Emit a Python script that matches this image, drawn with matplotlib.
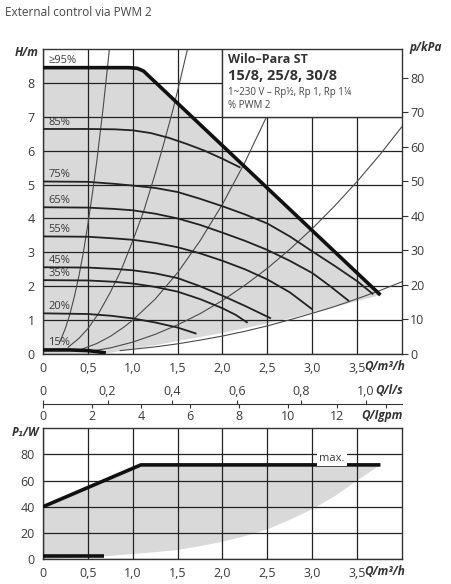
import numpy as np
import matplotlib
matplotlib.use('Agg')
import matplotlib.pyplot as plt
import matplotlib.transforms as mtransforms
from matplotlib.patches import Rectangle
from matplotlib.ticker import FuncFormatter

plt.rcParams['font.family'] = ['Open Sans', 'DejaVu Sans']

# --- pump curves, H/m over Q/m3/h ---
max_q = [0, 0.95, 1.05, 1.12, 3.76]
max_h = [8.45, 8.45, 8.43, 8.35, 1.74]

pwm_labels = ['85%', '75%', '65%', '55%', '45%', '35%', '20%']
pwm_q = [
    [0, 0.5, 0.8, 1.0, 1.2, 1.4, 1.6, 1.8, 2.0, 2.2],
    [0, 0.5, 0.8, 1.0, 1.25, 1.5, 1.75, 2.0, 2.25, 2.5, 2.75, 3.0, 3.25, 3.5, 3.68],
    [0, 0.5, 0.8, 1.0, 1.25, 1.5, 1.75, 2.0, 2.25, 2.5, 2.75, 3.0, 3.2, 3.41],
    [0, 0.5, 0.8, 1.0, 1.25, 1.5, 1.75, 2.0, 2.25, 2.5, 2.75, 3.0],
    [0, 0.5, 0.8, 1.0, 1.25, 1.5, 1.75, 2.0, 2.25, 2.54],
    [0, 0.5, 0.8, 1.0, 1.25, 1.5, 1.75, 2.0, 2.15, 2.28],
    [0, 0.5, 0.75, 1.0, 1.25, 1.5, 1.71],
]
pwm_h = [
    [6.64, 6.64, 6.63, 6.6, 6.52, 6.38, 6.2, 6.0, 5.76, 5.5],
    [5.09, 5.08, 5.02, 4.97, 4.9, 4.78, 4.58, 4.36, 4.12, 3.85, 3.47, 3.03, 2.6, 2.15, 1.76],
    [4.33, 4.32, 4.28, 4.24, 4.14, 4.0, 3.81, 3.58, 3.34, 3.07, 2.75, 2.39, 2.0, 1.56],
    [3.47, 3.46, 3.41, 3.37, 3.28, 3.15, 2.97, 2.75, 2.5, 2.2, 1.82, 1.32],
    [2.56, 2.55, 2.51, 2.47, 2.38, 2.24, 2.0, 1.72, 1.42, 1.05],
    [2.18, 2.17, 2.13, 2.08, 1.98, 1.84, 1.62, 1.35, 1.15, 0.92],
    [1.2, 1.18, 1.13, 1.05, 0.93, 0.78, 0.6],
]
min_q = [0, 0.3, 0.5, 0.6, 0.7]
min_h = [0.12, 0.12, 0.1, 0.07, 0.03]

# lower edge of the grey field
shade_q = [3.76, 3.5, 3.25, 3.0, 2.75, 2.5, 2.25, 2.0, 1.75, 1.5, 1.25, 1.0, 0.8, 0.67, 0]
shade_h = [1.74, 1.56, 1.39, 1.22, 1.06, 0.9, 0.76, 0.62, 0.5, 0.38, 0.26, 0.15, 0.06, 0.0, 0.0]

# system curves (thin)
sys_q = [
    [0.19, 0.25, 0.3, 0.35, 0.4, 0.45, 0.5, 0.55, 0.6, 0.67, 0.74],
    [0.28, 0.4, 0.5, 0.62, 0.75, 0.87, 1.0, 1.12, 1.25, 1.35, 1.45, 1.53, 1.61],
    [0.41, 0.6, 0.75, 0.9, 1.0, 1.25, 1.5, 1.75, 2.0, 2.25, 2.5, 2.75],
    [0.55, 0.75, 1.0, 1.25, 1.5, 1.75, 2.0, 2.25, 2.5, 2.75, 3.0, 3.25, 3.5, 3.75, 4.0],
    [0.86, 1.25, 1.5, 1.75, 2.0, 2.25, 2.5, 2.75, 3.0, 3.25, 3.5, 3.75, 4.0],
]
sys_h = [
    [0.37, 0.76, 1.18, 1.7, 2.3, 3.0, 3.83, 4.73, 5.7, 7.26, 9.0],
    [0.2, 0.46, 0.75, 1.2, 1.82, 2.47, 3.34, 4.2, 5.32, 6.25, 7.23, 8.1, 9.0],
    [0.12, 0.31, 0.52, 0.79, 1.0, 1.62, 2.4, 3.34, 4.42, 5.66, 7.05, 8.59],
    [0.09, 0.18, 0.35, 0.58, 0.86, 1.19, 1.58, 2.03, 2.53, 3.09, 3.7, 4.37, 5.09, 5.87, 6.71],
    [0.1, 0.21, 0.3, 0.41, 0.53, 0.67, 0.83, 1.01, 1.2, 1.4, 1.63, 1.87, 2.13],
]

# --- power, P1/W ---
pmax_q = [0, 1.09, 3.76]
pmax_p = [40, 72, 72]
pmin_q = [0, 0.68]
pmin_p = [2.3, 2.3]
pshade_q = [3.76, 3.65, 3.5, 3.25, 3.0, 2.75, 2.5, 2.25, 2.0, 1.75, 1.5, 1.25, 1.0, 0.68, 0]
pshade_p = [72, 67, 60, 48, 38, 30, 22.6, 17.5, 13.2, 9.8, 6.9, 5.2, 3.8, 2.0, 0]

GREY = '#d9d9d9'
INK = '#222222'
TXT = '#3a3a3a'


def comma(v, pos):
    if abs(v) < 1e-9:
        return '0'
    return ('%.1f' % v).replace('.', ',')


fig = plt.figure(figsize=(4.52, 5.84), dpi=100)
fig.text(5 / 452, 1 - 12 / 584, 'External control via PWM 2', fontsize=8.5,
         color='#444444', va='center')

# ================= H/Q chart =================
ax = fig.add_axes([43 / 452, 230 / 584, 359 / 452, 305 / 584])
ax.set_xlim(0, 4)
ax.set_ylim(0, 9)
ax.fill(max_q + shade_q, max_h + shade_h, color=GREY, lw=0, zorder=1)

for q, h in zip(sys_q, sys_h):
    ax.plot(q, h, color='#4a4a4a', lw=0.8, zorder=2)
for lab, q, h in zip(pwm_labels, pwm_q, pwm_h):
    ax.plot(q, h, color=INK, lw=1.3, zorder=3, solid_capstyle='butt')
    ax.text(0.06, h[0] + 0.04, lab, fontsize=8, color=TXT, va='bottom', zorder=6)
ax.plot(max_q, max_h, color='#111111', lw=2.6, zorder=4, solid_capstyle='butt')
ax.text(0.06, max_h[0] + 0.06, '\u226595%', fontsize=8, color=TXT, va='bottom', zorder=6)
ax.plot(min_q, min_h, color='#111111', lw=2.6, zorder=4, solid_capstyle='butt')
ax.text(0.06, 0.17, '15%', fontsize=8, color=TXT, va='bottom', zorder=6)

ax.add_patch(Rectangle((2.0, 7.0), 2.0, 2.0, facecolor='white', edgecolor='#333333',
                       lw=1.0, zorder=5))
ax.text(2.06, 8.68, 'Wilo\u2013Para ST', fontsize=9, fontweight='bold', color='#333333',
        va='center', zorder=6)
ax.text(2.06, 8.2, '15/8, 25/8, 30/8', fontsize=10.5, fontweight='bold', color='#333333',
        va='center', zorder=6)
ax.text(2.06, 7.72, '1~230 V \u2013 Rp\u00bd, Rp 1, Rp 1\u00bc', fontsize=7, color='#444444',
        va='center', zorder=6)
ax.text(2.06, 7.33, '% PWM 2', fontsize=7, color='#444444', va='center', zorder=6)

ax.set_xticks(np.arange(0, 4.0, 0.5))
ax.set_yticks(range(0, 9))
ax.xaxis.set_major_formatter(FuncFormatter(comma))
ax.grid(True, color=INK, lw=0.9)
ax.tick_params(length=0, labelsize=9, labelcolor=TXT)
ax.tick_params(axis='x', pad=6)
ax.tick_params(axis='y', pad=6)
for s in ax.spines.values():
    s.set_color('#333333')
    s.set_linewidth(1.0)

ax2 = ax.twinx()
ax2.set_ylim(0, 9 * 9.81)
ax2.set_yticks(range(0, 90, 10))
ax2.tick_params(direction='out', length=4, width=0.8, color='#333333', labelsize=9,
                labelcolor=TXT, pad=2)
for s in ax2.spines.values():
    s.set_visible(False)

trans = mtransforms.blended_transform_factory(ax.transData, ax.transAxes)
ax.text(4.03, -0.042, 'Q/m\u00b3/h', transform=trans, ha='right', va='center',
        fontsize=8.5, fontweight='bold', fontstyle='italic', color='#333333')
fig.text(27 / 452, 1 - 52 / 584, 'H/m', ha='center', va='center', fontsize=8.5,
         fontweight='bold', fontstyle='italic', color='#333333')
fig.text(426 / 452, 1 - 48 / 584, 'p/kPa', ha='center', va='center', fontsize=8.5,
         fontweight='bold', fontstyle='italic', color='#333333')

# ================= Q scale in l/s and Igpm =================
ax3 = fig.add_axes([43 / 452, (584 - 404) / 584, 359 / 452, 1e-4])
ax3.set_xlim(0, 4)
ax3.set_yticks([])
ax3.set_xticks([])
ax3.patch.set_visible(False)
for k in ['top', 'left', 'right']:
    ax3.spines[k].set_visible(False)
ax3.spines['bottom'].set_color('#333333')

ls_ax = ax3.secondary_xaxis('top', functions=(lambda q: q / 3.6, lambda v: v * 3.6))
ls_ax.set_xticks([0, 0.2, 0.4, 0.6, 0.8, 1.0])
ls_ax.xaxis.set_major_formatter(FuncFormatter(comma))
ls_ax.tick_params(direction='out', length=3, width=0.8, color='#333333', labelsize=9,
                  labelcolor=TXT, pad=1)
ls_ax.spines['top'].set_visible(False)

gpm_ax = ax3.secondary_xaxis('bottom', functions=(lambda q: q / 0.2728, lambda g: g * 0.2728))
gpm_ax.set_xticks([0, 2, 4, 6, 8, 10, 12, 14])
gpm_ax.set_xticklabels(['0', '2', '4', '6', '8', '10', '12', ''])
gpm_ax.tick_params(direction='out', length=3, width=0.8, color='#333333', labelsize=9,
                   labelcolor=TXT, pad=1.5)
gpm_ax.spines['bottom'].set_visible(False)

fig.text(403 / 452, 1 - 391 / 584, 'Q/l/s', ha='right', va='center', fontsize=8.5,
         fontweight='bold', fontstyle='italic', color='#333333')
fig.text(403 / 452, 1 - 416 / 584, 'Q/Igpm', ha='right', va='center', fontsize=8.5,
         fontweight='bold', fontstyle='italic', color='#333333')

# ================= P1 chart =================
axb = fig.add_axes([43 / 452, 25 / 584, 359 / 452, 130.7 / 584])
axb.set_xlim(0, 4)
axb.set_ylim(0, 100)
axb.fill(pmax_q + pshade_q, pmax_p + pshade_p, color=GREY, lw=0, zorder=1)
axb.plot(pmax_q, pmax_p, color='#111111', lw=2.6, zorder=4, solid_capstyle='butt')
axb.plot(pmin_q, pmin_p, color='#111111', lw=2.6, zorder=4, solid_capstyle='butt')
axb.text(3.22, 77, 'max.', ha='center', va='center', fontsize=8, color=TXT, zorder=6,
         bbox=dict(facecolor='white', edgecolor='none', pad=1.5))
axb.set_xticks(np.arange(0, 4.0, 0.5))
axb.set_yticks(range(0, 100, 20))
axb.xaxis.set_major_formatter(FuncFormatter(comma))
axb.grid(True, color=INK, lw=0.9)
axb.tick_params(length=0, labelsize=9, labelcolor=TXT)
axb.tick_params(axis='x', pad=6)
axb.tick_params(axis='y', pad=6)
for s in axb.spines.values():
    s.set_color('#333333')
    s.set_linewidth(1.0)
transb = mtransforms.blended_transform_factory(axb.transData, axb.transAxes)
axb.text(4.03, -0.092, 'Q/m\u00b3/h', transform=transb, ha='right', va='center',
         fontsize=8.5, fontweight='bold', fontstyle='italic', color='#333333')
fig.text(25 / 452, 1 - 433 / 584, 'P\u2081/W', ha='center', va='center', fontsize=8.5,
         fontweight='bold', fontstyle='italic', color='#333333')

fig.savefig('out.png', dpi=100)
